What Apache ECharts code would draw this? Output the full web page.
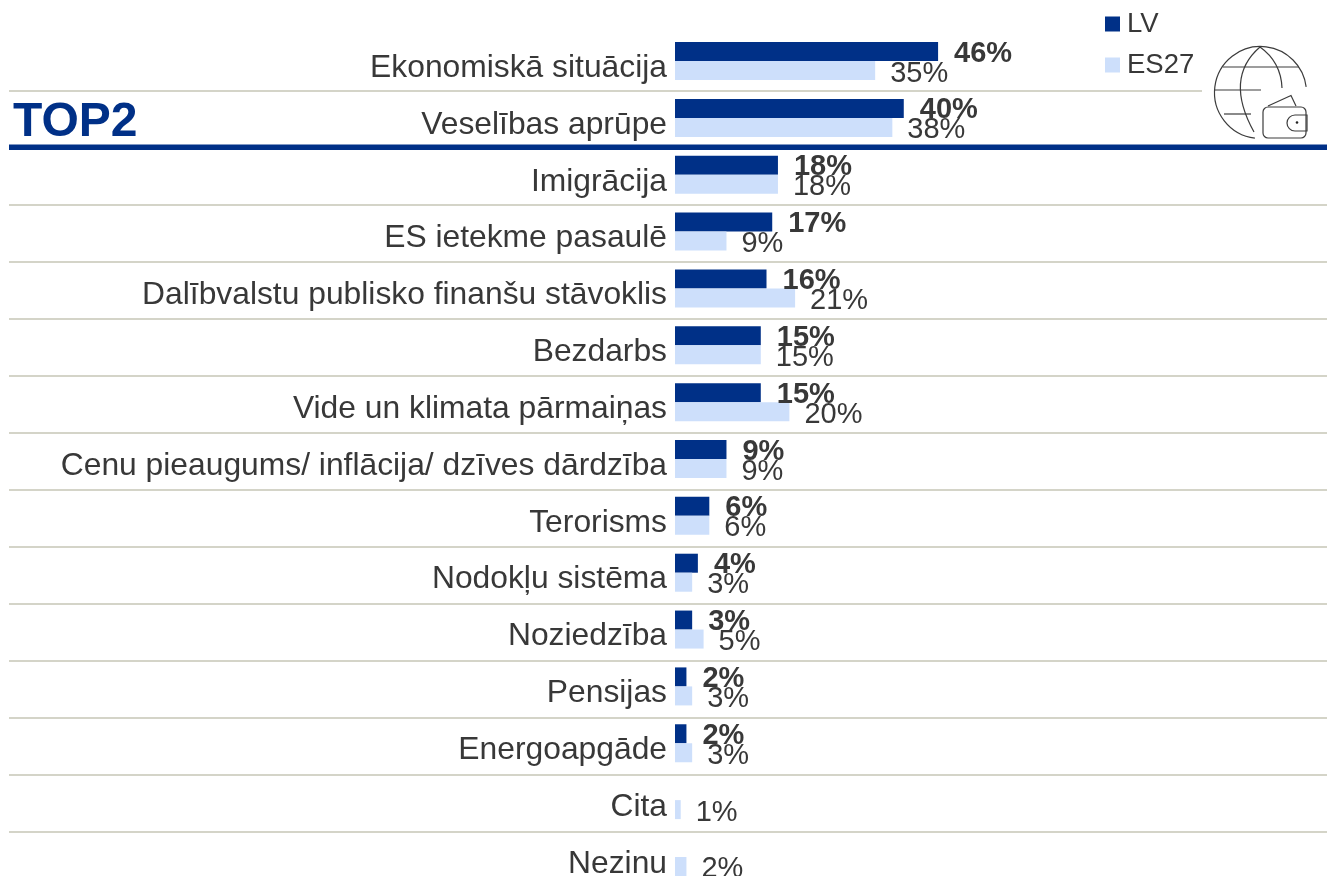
<!DOCTYPE html>
<html>
<head>
<meta charset="utf-8">
<style>
  html, body { margin: 0; padding: 0; background: #fff; overflow: hidden; height: 876px; }
  #chart { width: 1327px; height: 900px; }
</style>
<script src="https://cdn.jsdelivr.net/npm/echarts@6/dist/echarts.min.js"></script>
</head>
<body>
<div id="chart"></div>
<script>
const categories = ['Ekonomiskā situācija', 'Veselības aprūpe', 'Imigrācija', 'ES ietekme pasaulē',
  'Dalībvalstu publisko finanšu stāvoklis', 'Bezdarbs', 'Vide un klimata pārmaiņas',
  'Cenu pieaugums/ inflācija/ dzīves dārdzība', 'Terorisms', 'Nodokļu sistēma', 'Noziedzība',
  'Pensijas', 'Energoapgāde', 'Cita', 'Nezinu']
const lvValues = [46, 40, 18, 17, 16, 15, 15, 9, 6, 4, 3, 2, 2, null, null]
const es27Values = [35, 38, 18, 9, 21, 15, 20, 9, 6, 3, 5, 3, 3, 1, 2]

const colorLv = '#003087'
const colorEs = '#cddffb'
const colorText = '#383838'
const colorRule = '#d4d4c8'

// horizontal rules between the rows (the second one is the thick TOP2 rule)
const ruleY = [91, 147, 205, 262, 319, 376, 433, 490, 547, 604, 661, 718, 775, 832]

const chart = echarts.init(document.getElementById('chart'), null, { renderer: 'canvas' })

const rules = ruleY.map((y, i) => {
  if (i === 1) {
    return { type: 'rect', z: 5, shape: { x: 9, y: y - 2.5, width: 1318, height: 5.5 }, style: { fill: colorLv } }
  }
  return {
    type: 'line', z: 1,
    shape: { x1: 9, y1: y, x2: i === 0 ? 1202 : 1327, y2: y },
    style: { stroke: colorRule, lineWidth: 2 }
  }
})

// globe + wallet icon
const iconStyle = { fill: 'none', stroke: '#3c3c3c', lineWidth: 1.2 }
const deg = d => d * Math.PI / 180
const icon = [
  { type: 'arc', shape: { cx: 1260.5, cy: 92.5, r: 46, startAngle: deg(97), endAngle: deg(353), clockwise: true } },
  { type: 'bezierCurve', shape: { x1: 1260, y1: 47, cpx1: 1224, cpy1: 78, x2: 1254, y2: 132 } },
  { type: 'bezierCurve', shape: { x1: 1260, y1: 47, cpx1: 1281, cpy1: 62, x2: 1282, y2: 88 } },
  { type: 'line', shape: { x1: 1223, y1: 67, x2: 1299, y2: 67 } },
  { type: 'line', shape: { x1: 1215, y1: 90, x2: 1261, y2: 90 } },
  { type: 'line', shape: { x1: 1224, y1: 114, x2: 1251, y2: 114 } },
  { type: 'polyline', shape: { points: [[1268, 106], [1291, 95.5], [1296, 106]] } },
  { type: 'rect', shape: { x: 1263, y: 107, width: 43, height: 31, r: 5 } },
  { type: 'rect', shape: { x: 1287, y: 115, width: 20, height: 16, r: [8, 0, 0, 8] } }
].map(el => ({ ...el, z: 6, style: iconStyle }))
icon.push({ type: 'circle', z: 6, shape: { cx: 1297, cy: 122.5, r: 1.3 }, style: { fill: '#222' } })

const option = {
  animation: false,
  backgroundColor: '#fff',
  textStyle: { fontFamily: '"Liberation Sans", Arial, sans-serif' },
  // the last row runs past the bottom edge of the window, so the canvas is taller than the page
  grid: { left: 675, right: 0, top: 32.6, height: 852.8, containLabel: false },
  legend: {
    orient: 'vertical',
    left: 1100,
    top: -2,
    itemWidth: 15,
    itemHeight: 15,
    itemGap: -1,
    icon: 'rect',
    data: ['LV', 'ES27'],
    textStyle: { fontSize: 27.5, color: colorText, padding: [7, 0, 0, 2], lineHeight: 35, fontFamily: '"Liberation Sans"' }
  },
  xAxis: { type: 'value', min: 0, max: 114, show: false },
  yAxis: {
    type: 'category',
    inverse: true,
    data: categories,
    axisLine: { show: false },
    axisTick: { show: false },
    splitLine: { show: false },
    axisLabel: {
      interval: 0,
      margin: 8,
      fontSize: 31.8,
      color: colorText,
      verticalAlign: 'top',
      lineHeight: 14,
      fontFamily: '"Liberation Sans"'
    }
  },
  series: [
    {
      name: 'LV', type: 'bar', data: lvValues, barWidth: 19, barGap: 0,
      itemStyle: { color: colorLv },
      label: {
        show: true, position: 'right', distance: 15, offset: [1, 2], fontSize: 29, fontWeight: 'bold',
        color: colorText, formatter: p => p.value + '%', fontFamily: '"Liberation Sans"'
      }
    },
    {
      name: 'ES27', type: 'bar', data: es27Values, barWidth: 19,
      itemStyle: { color: colorEs },
      label: {
        show: true, position: 'right', distance: 15, offset: [0, 3], fontSize: 29,
        color: colorText, formatter: p => p.value + '%', fontFamily: '"Liberation Sans"'
      }
    }
  ],
  graphic: [
    ...rules,
    ...icon,
    {
      type: 'text', z: 6, left: 13, top: 99,
      style: { text: 'TOP2', fontSize: 48, fontWeight: 'bold', fill: colorLv, fontFamily: '"Liberation Sans"' }
    }
  ]
}

chart.setOption(option)
</script>
</body>
</html>
